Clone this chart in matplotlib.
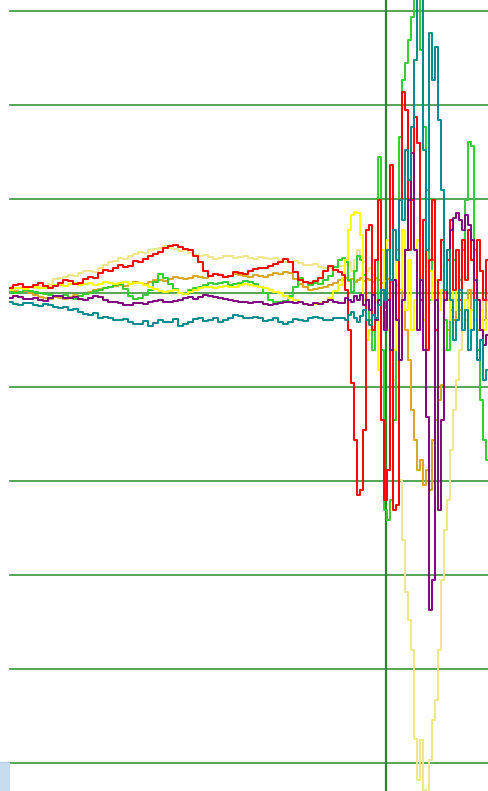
import matplotlib
matplotlib.use("Agg")
import matplotlib.pyplot as plt
import numpy as np
from matplotlib.patches import Rectangle

# sample times: coarse grid while the traces are calm, finer grid once they start swinging
t_calm = np.arange(0, 331, 5)
t_burst = np.arange(333, 481, 3)
t = np.concatenate([t_calm, t_burst])

event_time = 376

red = [5, 9, 10, 7, 6, 9, 11, 8, 5, 8, 11, 14, 13, 10, 11, 15, 17, 16, 21, 25,
       24, 27, 30, 28, 29, 34, 33, 36, 40, 42, 44, 48, 50, 51, 49, 47, 46, 40, 33, 24,
       18, 20, 19, 17, 18, 22, 21, 20, 24, 26, 27, 27, 29, 31, 33, 36, 33, 22, 14, 12,
       11, 13, 16, 24, 29, 25, 22,
       19, 3, -39, -96, -156, -215, -210, -146, 67, 72, -39, 35, 99, -135, -220, -188,
       136, -231, -226, 99, 214, 195, 46, 99, 187, 160, -7, 78, -61, 35, 99, -39, 14, 56,
       -7, 35, 78, 3, 46, -7, 56, 14, 67, 35, -7, 56, 24, -7, 35, 14]
yellow = [3, 5, 5, 4, 6, 7, 5, 5, 7, 9, 9, 8, 10, 11, 9, 10, 11, 9, 10, 12,
          11, 10, 11, 12, 10, 11, 11, 9, 6, 4, 2, 1, 2, 3, 0, -1, 1, 3, 5, 6,
          6, 5, 6, 8, 7, 6, 9, 10, 9, 8, 7, 5, 3, 1, 0, -3, -5, -7, -10, -12,
          -13, -12, -11, -9, -5, 2, 9,
          16, 35, 67, 83, 86, 85, 62, -7, -50, -39, 35, -7, -82, 46, -39, 56,
          -7, -61, 35, 3, 67, -18, 35, -39, -7, 56, 14, -29, 3, 24, -7, 14, -18, 3,
          24, -7, -29, 3, -18, -7, -29, -7, -39, -18, -29, -7, -18, -39, -29, -18]
khaki = [6, 4, 5, 7, 7, 5, 6, 8, 10, 15, 16, 17, 19, 18, 21, 23, 24, 22, 27, 30,
         33, 34, 37, 36, 40, 42, 44, 43, 46, 47, 48, 50, 48, 47, 45, 46, 43, 41, 40, 41,
         38, 36, 37, 39, 39, 37, 38, 40, 37, 36, 38, 37, 36, 37, 35, 33, 33, 34, 32, 30,
         30, 31, 28, 27, 27, 26, 29,
         29, 30, 33, 24, 35, 46, 40, 33, 24, 27, 19, 14, -7, 3, -18, -39,
         -61, -93, -135, -199, -263, -318, -348, -380, -475, -518, -476, -529, -539, -497,
         -454, -433, -380, -305, -252, -220, -167, -124, -93, -61, -39, -29, -7, 3, -18,
         -7, -29, 3, -7, -18]
goldenrod = [3, 2, 1, 2, 0, -2, -4, -5, -6, -4, -5, -6, -4, -2, -3, -1, 1, 3, 4, 5,
             7, 8, 9, 8, 10, 12, 11, 10, 12, 14, 14, 13, 15, 17, 16, 15, 16, 18, 17, 16,
             18, 20, 19, 17, 18, 20, 19, 18, 17, 19, 18, 17, 19, 21, 20, 22, 21, 15, 10, 6,
             3, 4, 5, 7, 9, 11, 14,
             14, 16, 13, 15, 12, 14, 16, 13, 15, 14, 12, 16, 14, 11, 13, 15,
             12, 14, 9, 3, -7, -39, -71, -124, -156, -188, -178, -204, -188, -210, -156, -135,
             -114, -98, -61, -39, -18, -29, -7, -18, -29, -7, 3, -18, -29, -39, -18, -29, -7, -18]
green = [2, 0, 1, 3, 2, 1, 0, -1, -2, -3, -3, -2, -5, -6, -3, -1, 0, 2, 3, 5,
         7, 9, 10, 4, -3, -6, -5, -2, 3, 12, 20, 16, 10, 4, 0, -1, 3, 5, 6, 9,
         11, 10, 11, 12, 9, 10, 11, 13, 12, 10, 7, 0, -7, -9, -10, -8, -3, 6, 16, 12,
         9, 11, 10, 14, 18, 28, 35,
         37, 33, 14, 1, 24, 40, 35, 19, -7, -29, -61, -7, 145, -61, -231, -242,
         -220, -135, 46, 166, 227, 245, 269, 294, 323, 323, 259, 177, 110, -7, 35, -39,
         14, 56, -29, -61, -7, 35, -7, 14, 46, 99, 161, 157, 46, -61, -114, -156, -178, -167]
purple = [-5, -3, -4, -6, -6, -5, -7, -8, -5, -3, -3, -5, -5, -4, -6, -7, -5, -3, -4, -7,
          -9, -10, -11, -13, -13, -11, -11, -12, -9, -8, -7, -9, -10, -8, -7, -5, -4, -6, -4, -2,
          -3, -4, -5, -6, -7, -8, -9, -10, -11, -9, -10, -12, -13, -12, -11, -10, -9, -11, -10, -12,
          -13, -11, -12, -9, -7, -10, -11,
          -11, -5, -7, -10, -3, -7, -2, -13, -7, -18, -2, -29, -7, 3, -39, -7,
          -61, 14, -29, -71, -7, 46, 99, 149, 46, -39, 14, -61, -132, -337, -305, -7,
          -231, -135, -7, 46, 67, 80, 85, 78, 67, 83, 72, 56, 14, -7, -39, -55, -45, -50]
teal = [-10, -12, -13, -11, -11, -13, -14, -12, -13, -15, -16, -15, -18, -17, -20, -22, -23, -21, -26, -25,
        -27, -29, -29, -28, -31, -33, -33, -30, -35, -32, -29, -31, -31, -28, -35, -33, -31, -28, -27, -30,
        -29, -27, -31, -29, -26, -23, -24, -26, -27, -25, -27, -30, -29, -26, -31, -33, -31, -28, -29, -30,
        -27, -25, -27, -29, -29, -26, -27,
        -27, -29, -23, -20, -27, -31, -24, -18, -29, -34, -23, -27, -13, 3, -7, 46,
        14, 67, 35, 99, 78, 152, 120, 177, 248, 323, 323, 152, 46, 277, 227, 262,
        184, 110, 3, 46, -7, -50, -29, 3, -39, -18, -61, -39, -7, -71, -50, -93, -82, -61]

series = [
    (khaki, "#f0e68c"),
    (goldenrod, "#daa520"),
    (green, "#32cd32"),
    (yellow, "#ffff00"),
    (red, "#ff0000"),
    (purple, "#800080"),
    (teal, "#008b8b"),
]

fig = plt.figure(figsize=(4.89, 7.91), dpi=100)
ax = fig.add_axes([0, 0, 1, 1])

for level in range(-500, 301, 100):
    ax.plot([0, 480], [level, level], color="#3a963a", lw=1.2, zorder=1)
ax.axvline(event_time, color="#228b22", lw=1.6, zorder=1)

for values, color in series:
    ax.plot(t, values, color=color, lw=1.4, drawstyle="steps-mid", zorder=2)

ax.set_xlim(-10, 479)
ax.set_ylim(-530, 312)
ax.axis("off")

# small corner tab at bottom-left
fig.patches.append(Rectangle((0, 0), 10 / 489, 29 / 791, transform=fig.transFigure,
                             facecolor="#c6ddef", edgecolor="none"))
fig.patches.append(Rectangle((0, 28 / 791), 10 / 489, 1.5 / 791, transform=fig.transFigure,
                             facecolor="#a9c8e2", edgecolor="none"))

fig.savefig("out.png", dpi=100)
